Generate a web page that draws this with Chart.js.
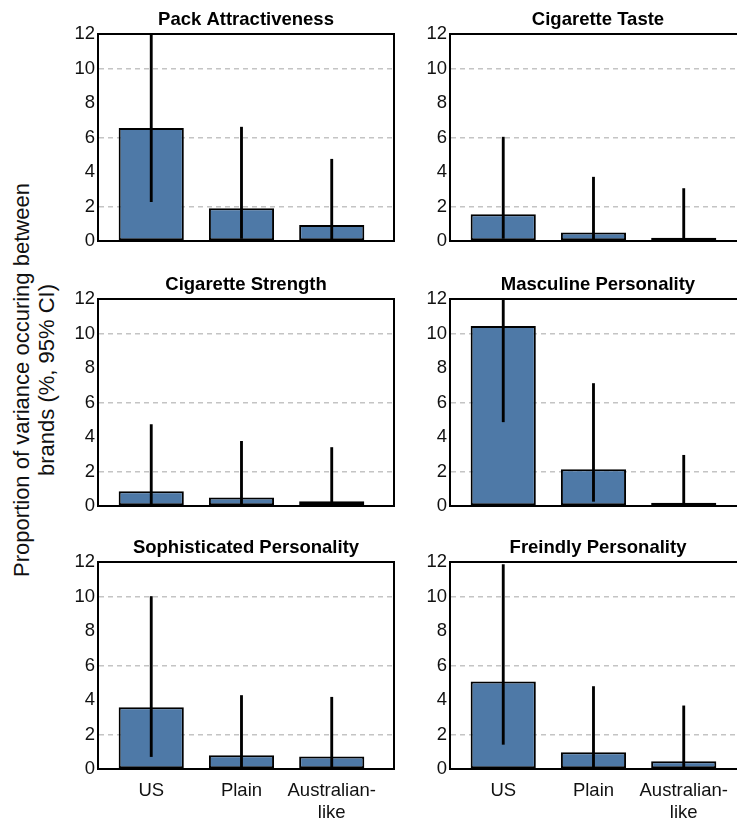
<!DOCTYPE html>
<html>
<head>
<meta charset="utf-8">
<script src="https://cdn.jsdelivr.net/npm/chart.js@4.4.1/dist/chart.umd.min.js"></script>
<style>
  html, body { margin: 0; padding: 0; background: #fff; overflow: hidden; width: 737px; height: 825px; }
  .panel { position: absolute; }
  #ytitle {
    position: absolute; left: 34px; top: 380px; width: 420px;
    transform: translate(-50%, -50%) rotate(-90deg);
    text-align: center; font-family: "Liberation Sans", Arial, Helvetica, sans-serif;
    font-size: 22px; line-height: 25px; color: #111; white-space: nowrap;
  }
</style>
</head>
<body>
<div id="ytitle">Proportion of variance occuring between<br>brands (%, 95% CI)</div>
<canvas id="c0" class="panel"></canvas>
<canvas id="c1" class="panel"></canvas>
<canvas id="c2" class="panel"></canvas>
<canvas id="c3" class="panel"></canvas>
<canvas id="c4" class="panel"></canvas>
<canvas id="c5" class="panel"></canvas>
<script>
// ---- data ----
const categories = ['US', 'Plain', 'Australian-like'];
const tickLabels = [['US'], ['Plain'], ['Australian-', 'like']];
const yTicks = [0, 2, 4, 6, 8, 10, 12];
const panelTitles = ['Pack Attractiveness', 'Cigarette Taste', 'Cigarette Strength',
                     'Masculine Personality', 'Sophisticated Personality', 'Freindly Personality'];

const packValues = [6.55, 1.90, 0.93];
const packLow    = [2.28, 0.15, 0.00];
const packHigh   = [12.0, 6.60, 4.74];

const tasteValues = [1.55, 0.50, 0.19];
const tasteLow    = [0.15, 0.00, 0.00];
const tasteHigh   = [6.02, 3.70, 3.04];

const strengthValues = [0.85, 0.50, 0.27];
const strengthLow    = [0.00, 0.00, 0.00];
const strengthHigh   = [4.72, 3.75, 3.39];

const masculineValues = [10.43, 2.13, 0.19];
const masculineLow    = [4.88, 0.27, 0.00];
const masculineHigh   = [12.0, 7.10, 2.94];

const sophisticatedValues = [3.58, 0.79, 0.72];
const sophisticatedLow    = [0.72, 0.00, 0.00];
const sophisticatedHigh   = [10.0, 4.26, 4.16];

const friendlyValues = [5.07, 0.97, 0.45];
const friendlyLow    = [1.43, 0.00, 0.00];
const friendlyHigh   = [11.85, 4.78, 3.66];

const panels = [
  [packValues, packLow, packHigh],
  [tasteValues, tasteLow, tasteHigh],
  [strengthValues, strengthLow, strengthHigh],
  [masculineValues, masculineLow, masculineHigh],
  [sophisticatedValues, sophisticatedLow, sophisticatedHigh],
  [friendlyValues, friendlyLow, friendlyHigh]
];

// ---- layout ----
const FONT = '"Liberation Sans", Arial, Helvetica, sans-serif';
const colLeft = [40, 392];
const rowTop = [0, 265, 528];
const CW = 357;
const TITLE_H = 34, AREA_H = 207, YAXIS_W = 58;

function noPad(s) { s.paddingTop = 0; s.paddingBottom = 0; s.paddingLeft = 0; s.paddingRight = 0; }

panels.forEach((p, i) => {
  const row = Math.floor(i / 2), col = i % 2;
  const last = row === 2;
  const xH = last ? 50 : 0;
  const padB = last ? 0 : 14;
  const H = TITLE_H + AREA_H + xH + padB;
  const cv = document.getElementById('c' + i);
  cv.width = CW; cv.height = H;
  cv.style.left = colLeft[col] + 'px';
  cv.style.top = rowTop[row] + 'px';
  cv.style.width = CW + 'px'; cv.style.height = H + 'px';

  const [vals, lo, hi] = p;
  new Chart(cv, {
    type: 'bar',
    data: {
      datasets: [
        {
          label: 'CI',
          data: categories.map((c, k) => ({ x: k + 1, y: [lo[k], hi[k]] })),
          backgroundColor: '#000',
          borderWidth: 0,
          barThickness: 2.2,
          grouped: false,
          order: 0
        },
        {
          label: 'Proportion',
          data: categories.map((c, k) => ({ x: k + 1, y: vals[k] })),
          backgroundColor: '#4e79a7',
          borderColor: '#000',
          borderWidth: 2,
          borderSkipped: false,
          barPercentage: 0.722,
          categoryPercentage: 1,
          grouped: false,
          order: 1
        }
      ]
    },
    options: {
      responsive: false,
      animation: false,
      devicePixelRatio: 1,
      layout: { padding: { top: 0, right: 3, bottom: padB, left: 0 } },
      plugins: {
        legend: { display: false },
        tooltip: { enabled: false },
        title: {
          display: true,
          text: panelTitles[i],
          fullSize: false,
          color: '#000',
          font: { family: FONT, size: 18.5, weight: 'bold', lineHeight: 1.2 },
          padding: { top: 8.4, bottom: 3.4 }
        }
      },
      scales: {
        x: {
          type: 'linear',
          min: 0.41, max: 3.69,
          offset: false,
          afterBuildTicks: s => { s.ticks = categories.map((c, k) => ({ value: k + 1 })); },
          afterFit: s => { s.height = xH; noPad(s); },
          grid: { display: false, drawTicks: false, offset: false },
          border: { display: true, color: '#000', width: 2, z: 1 },
          ticks: {
            display: last,
            autoSkip: false,
            maxRotation: 0,
            padding: 11,
            color: '#111',
            font: { family: FONT, size: 18.5, lineHeight: 1.2 },
            callback: v => tickLabels[Math.round(v) - 1]
          }
        },
        x2: {
          type: 'linear', position: 'top',
          afterFit: s => { s.height = 0; noPad(s); },
          grid: { display: false, drawTicks: false },
          border: { display: true, color: '#000', width: 2, z: 1 },
          ticks: { display: false }
        },
        y: {
          min: 0, max: 12,
          afterBuildTicks: s => { s.ticks = yTicks.map(v => ({ value: v })); },
          afterFit: s => { s.width = YAXIS_W; noPad(s); },
          grid: {
            drawTicks: false,
            lineWidth: 1.5,
            color: ctx => (ctx.tick && (ctx.tick.value === 2 || ctx.tick.value === 6 || ctx.tick.value === 10)) ? '#c4c4c4' : 'rgba(0,0,0,0)'
          },
          border: { display: true, color: '#000', width: 2, z: 1, dash: [5, 4] },
          ticks: {
            padding: 3,
            color: '#111',
            font: { family: FONT, size: 18.5 }
          }
        },
        y2: {
          type: 'linear', position: 'right',
          afterFit: s => { s.width = 0; noPad(s); },
          grid: { display: false, drawTicks: false },
          border: { display: true, color: '#000', width: 2, z: 1 },
          ticks: { display: false }
        }
      }
    }
  });
});
</script>
</body>
</html>
